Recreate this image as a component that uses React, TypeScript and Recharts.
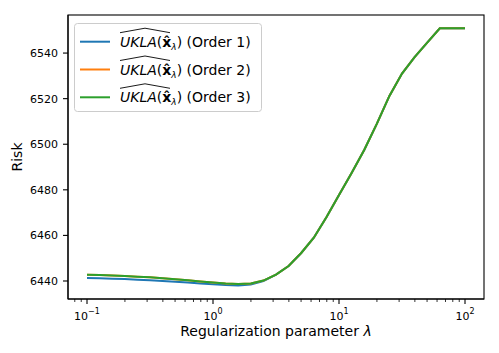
import { LineChart, Line, XAxis, YAxis, Legend } from 'recharts';

// regularization grid (log spaced, 0.1 decade)
const lambdas = [
    0.1, 0.1259, 0.1585, 0.1995, 0.2512, 0.3162, 0.3981, 0.5012, 0.631, 0.7943,
    1, 1.259, 1.585, 1.995, 2.512, 3.162, 3.981, 5.012, 6.31, 7.943,
    10, 12.59, 15.85, 19.95, 25.12, 31.62, 39.81, 50.12, 63.1, 79.43, 100,
];

const riskOrder1 = [
    6441.3, 6441.2, 6441.0, 6440.85, 6440.6, 6440.35, 6440.05, 6439.7, 6439.3, 6438.9,
    6438.6, 6438.2, 6438.0, 6438.5, 6440.0, 6442.8, 6446.6, 6452.3, 6459.0, 6468.0,
    6477.7, 6487.4, 6497.5, 6508.9, 6521.2, 6531.0, 6538.2, 6544.6, 6550.9, 6550.9, 6550.9,
];

const riskOrder2 = [
    6442.7, 6442.6, 6442.4, 6442.2, 6441.9, 6441.6, 6441.2, 6440.8, 6440.3, 6439.8,
    6439.3, 6438.9, 6438.7, 6438.9, 6440.2, 6442.8, 6446.6, 6452.3, 6459.0, 6468.0,
    6477.7, 6487.4, 6497.5, 6508.9, 6521.2, 6531.0, 6538.2, 6544.6, 6550.9, 6550.9, 6550.9,
];

const riskOrder3 = [
    6442.7, 6442.6, 6442.4, 6442.2, 6441.9, 6441.6, 6441.2, 6440.8, 6440.3, 6439.8,
    6439.3, 6438.9, 6438.7, 6438.9, 6440.2, 6442.8, 6446.6, 6452.3, 6459.0, 6468.0,
    6477.7, 6487.4, 6497.5, 6508.9, 6521.2, 6531.0, 6538.2, 6544.6, 6550.9, 6550.9, 6550.9,
];

const xTicks = [
    0.08, 0.09, 0.1, 0.2, 0.3, 0.4, 0.5, 0.6, 0.7, 0.8, 0.9,
    1, 2, 3, 4, 5, 6, 7, 8, 9,
    10, 20, 30, 40, 50, 60, 70, 80, 90, 100,
];
const yTicks = [6440, 6460, 6480, 6500, 6520, 6540];

const series = [
    { key: 'o1', order: 1, color: '#1f77b4' },
    { key: 'o2', order: 2, color: '#ff7f0e' },
    { key: 'o3', order: 3, color: '#2ca02c' },
];

const FONT = 'DejaVu Sans';
const X_DOMAIN = [0.07066, 141.5];
const Y_DOMAIN = [6432.1, 6556.7];

const rows = lambdas.map((lam, i) => ({
    lam,
    o1: riskOrder1[i],
    o2: riskOrder2[i],
    o3: riskOrder3[i],
}));

function LogTick({ x, y, payload }: any) {
    const v = payload.value;
    const lg = Math.log10(v);
    const exp = Math.round(lg);
    const major = Math.abs(lg - exp) < 1e-6;
    return (
        <g>
            <line x1={x} x2={x} y1={y} y2={y + (major ? 5 : 3)} stroke="#000" strokeWidth={major ? 1.1 : 0.8} />
            {major && (
                <text x={x} y={y + 21} textAnchor="middle" fontSize={11} fontFamily={FONT} fill="#000">
                    10
                    <tspan dy={-6} fontSize={8}>{exp < 0 ? '\u2212' + -exp : String(exp)}</tspan>
                </text>
            )}
        </g>
    );
}

function LegendBox() {
    return (
        <svg width={188} height={90}>
            <rect x={0.5} y={0.5} width={187} height={88} rx={3} fill="#fff" fillOpacity={0.8} stroke="#cccccc" />
            {series.map((s, i) => {
                const cy = 18.7 + 27.8 * i;
                return (
                    <g key={s.key}>
                        <line x1={6} x2={36} y1={cy} y2={cy} stroke={s.color} strokeWidth={2} />
                        <path d={`M46 ${cy - 9} L71 ${cy - 13.5} L96 ${cy - 9}`} stroke="#000" strokeWidth={0.9} fill="none" />
                        <text x={46} y={cy + 5} fontSize={14} fontFamily={FONT} fill="#000">
                            <tspan fontStyle="italic">UKLA</tspan>
                            <tspan>(</tspan>
                            <tspan fontWeight="bold">{'x\u0302'}</tspan>
                            <tspan fontStyle="italic" fontSize={9} dy={3}>λ</tspan>
                            <tspan dy={-3}>{`) (Order ${s.order})`}</tspan>
                        </text>
                    </g>
                );
            })}
        </svg>
    );
}

export default function App() {
    return (
        <div style={{ position: 'absolute', left: 0, top: 0, width: 499, height: 353, background: '#fff' }}>
            <LineChart width={499} height={353} data={rows} margin={{ top: 15, right: 15, bottom: 0, left: 0 }}>
                <XAxis
                    dataKey="lam"
                    type="number"
                    scale="log"
                    domain={X_DOMAIN}
                    allowDataOverflow
                    ticks={xTicks}
                    interval={0}
                    tick={<LogTick />}
                    tickLine={false}
                    tickSize={0}
                    tickMargin={0}
                    height={54}
                    axisLine={{ stroke: '#000', strokeWidth: 1.1 }}
                />
                <YAxis
                    type="number"
                    domain={Y_DOMAIN}
                    allowDataOverflow
                    ticks={yTicks}
                    interval={0}
                    width={68}
                    tickSize={5}
                    tickMargin={5}
                    tick={{ fill: '#000', fontSize: 11, fontFamily: FONT }}
                    tickLine={{ stroke: '#000', strokeWidth: 1.1 }}
                    axisLine={{ stroke: '#000', strokeWidth: 1.1 }}
                />
                {series.map((s) => (
                    <Line
                        key={s.key}
                        type="linear"
                        dataKey={s.key}
                        stroke={s.color}
                        strokeWidth={2}
                        dot={false}
                        activeDot={false}
                        isAnimationActive={false}
                    />
                ))}
                <Legend
                    layout="horizontal"
                    verticalAlign="middle"
                    align="center"
                    content={() => <LegendBox />}
                    wrapperStyle={{ left: 74, top: 23, width: 188, height: 90 }}
                />
            </LineChart>
            <svg width={499} height={353} style={{ position: 'absolute', left: 0, top: 0, pointerEvents: 'none' }}>
                {/* axes frame (top / right spines) */}
                <rect x={68} y={15} width={416} height={284} fill="none" stroke="#000" strokeWidth={1.1} />
                <text x={276} y={336} textAnchor="middle" fontSize={14} fontFamily={FONT} fill="#000">
                    Regularization parameter <tspan fontStyle="italic">λ</tspan>
                </text>
                <text
                    x={0}
                    y={0}
                    transform="translate(22 157) rotate(-90)"
                    textAnchor="middle"
                    fontSize={14}
                    fontFamily={FONT}
                    fill="#000"
                >
                    Risk
                </text>
            </svg>
        </div>
    );
}
